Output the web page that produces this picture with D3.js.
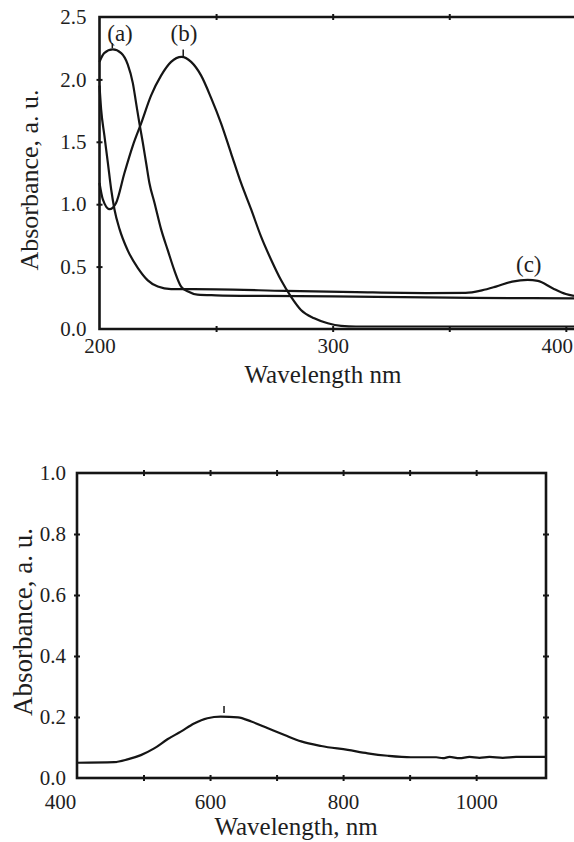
<!DOCTYPE html>
<html>
<head>
<meta charset="utf-8">
<script src="https://cdn.jsdelivr.net/npm/d3@7"></script>
<style>
  html, body { margin: 0; padding: 0; background: #fff; }
  svg { display: block; }
  text { font-family: "Liberation Serif", "Times New Roman", serif; fill: #1e1e1e; }
</style>
</head>
<body>
<svg id="chart" width="574" height="842"></svg>
<script>
// ---------- DATA (top panel: UV region) ----------
const aNm  = [200, 202, 205.7, 209.3, 212.1, 214.3, 215.7, 217.1, 218.6, 220, 221.4, 223.6, 226.4, 229.3, 232.1, 235, 238, 242, 250, 270, 300, 330, 360, 403.5];
const aAbs = [2.14, 2.21, 2.24, 2.21, 2.12, 1.97, 1.81, 1.65, 1.49, 1.33, 1.17, 1.01, 0.80, 0.63, 0.47, 0.34, 0.30, 0.275, 0.27, 0.265, 0.262, 0.255, 0.25, 0.245];

const bNm  = [200, 201.4, 204.3, 207.1, 210.7, 214.3, 217.9, 222.1, 226.4, 230.7, 235.2, 239.3, 243.6, 247.9, 252.1, 256.4, 260.7, 265, 269.3, 273.6, 277.9, 282.1, 286.4, 292.1, 297.9, 303.6, 310, 330, 360, 403.5];
const bAbs = [1.17, 1.04, 0.96, 1.01, 1.25, 1.47, 1.65, 1.87, 2.03, 2.14, 2.18, 2.14, 2.03, 1.85, 1.65, 1.41, 1.17, 0.96, 0.74, 0.555, 0.39, 0.26, 0.153, 0.086, 0.046, 0.025, 0.02, 0.02, 0.02, 0.02];

const cNm  = [200, 200.7, 202.1, 203.6, 205, 206.4, 208.6, 212.1, 216.4, 220.7, 225, 230.7, 250, 280, 310, 340, 357, 364, 370, 377, 383.6, 388, 394.3, 400, 403.5];
const cAbs = [1.95, 1.76, 1.55, 1.33, 1.12, 0.96, 0.80, 0.63, 0.49, 0.39, 0.34, 0.32, 0.318, 0.305, 0.295, 0.288, 0.29, 0.31, 0.34, 0.38, 0.394, 0.386, 0.327, 0.28, 0.265];

const topXTicks  = [250, 300, 350, 400];
const topXLabels = [200, 300, 400];
const topYTicks  = [0.5, 1.0, 1.5, 2.0];
const topYLabels = [0.0, 0.5, 1.0, 1.5, 2.0, 2.5];

const curveLabels   = ["(a)", "(b)", "(c)"];
const curveLabelNm  = [208.8, 236.2, 384.1];
const curveLabelAbs = [2.308, 2.308, 0.457];
const peakMarkNm    = [205.5, 235.9];
const peakMarkLo    = [2.25, 2.18];
const peakMarkHi    = [2.29, 2.24];

// ---------- DATA (bottom panel: visible / NIR) ----------
const visNm  = [400, 456, 476, 496, 516, 536, 556, 576, 596, 616, 642, 662, 687, 712, 737, 767, 807, 837, 867, 902, 940, 950, 960, 975, 990, 1005, 1020, 1040, 1060, 1105];
const visAbs = [0.05, 0.052, 0.061, 0.075, 0.097, 0.127, 0.152, 0.179, 0.196, 0.201, 0.199, 0.185, 0.163, 0.141, 0.12, 0.105, 0.092, 0.081, 0.073, 0.068, 0.068, 0.065, 0.069, 0.065, 0.069, 0.066, 0.069, 0.066, 0.069, 0.069];

const botXTicks  = [500, 600, 700, 800, 900, 1000];
const botXLabels = [400, 600, 800, 1000];
const botYTicks  = [0.2, 0.4, 0.6, 0.8];
const botYLabels = [0.0, 0.2, 0.4, 0.6, 0.8, 1.0];
const visPeakNm = 621, visPeakLo = 0.213, visPeakHi = 0.236;

// ---------- DRAWING ----------
const svg = d3.select("#chart");
svg.append("rect").attr("width", 574).attr("height", 842).attr("fill", "#fff");
const INK = "#151515";
const zip = (xs, ys) => xs.map((x, i) => [x, ys[i]]);

function styleAxis(g, fs) {
  g.attr("font-family", "Liberation Serif, Times New Roman, serif").attr("font-size", fs);
  g.select(".domain").remove();
  g.selectAll("line").attr("stroke", INK).attr("stroke-width", 2);
  g.selectAll("text").attr("fill", "#1e1e1e");
}

// ===== TOP PANEL =====
const tx = d3.scaleLinear().domain([200, 403.5]).range([99.5, 574]);
const ty = d3.scaleLinear().domain([0, 2.5]).range([329, 17]);
const topG = svg.append("g");

const tFrame = d3.path();
tFrame.moveTo(tx.range()[1], ty(2.5));
tFrame.lineTo(tx(200), ty(2.5));
tFrame.lineTo(tx(200), ty(0));
tFrame.lineTo(tx.range()[1], ty(0));
topG.append("path").attr("d", tFrame.toString()).attr("fill", "none")
  .attr("stroke", INK).attr("stroke-width", 2.6);

topG.append("g").attr("transform", `translate(0,${ty(0) - 3})`)
  .call(d3.axisBottom(tx).tickValues(topXTicks).tickSize(6).tickFormat(""))
  .call(g => styleAxis(g, 21));
topG.append("g").attr("transform", `translate(0,${ty(2.5) - 3})`)
  .call(d3.axisBottom(tx).tickValues(topXTicks.slice(0, 3)).tickSize(6).tickFormat(""))
  .call(g => styleAxis(g, 21));
topG.append("g").attr("transform", `translate(${tx(200) + 3},0)`)
  .call(d3.axisLeft(ty).tickValues(topYTicks).tickSize(6).tickFormat(""))
  .call(g => styleAxis(g, 21));

topG.append("g").attr("transform", `translate(0,${ty(0)})`)
  .call(d3.axisBottom(tx).tickValues(topXLabels).tickSize(0).tickPadding(9).tickFormat(d3.format("d")))
  .call(g => styleAxis(g, 21))
  .call(g => g.selectAll("text").filter(d => d === 400).attr("dx", -9));
topG.append("g").attr("transform", `translate(${tx(200)},0)`)
  .call(d3.axisLeft(ty).tickValues(topYLabels).tickSize(0).tickPadding(13).tickFormat(d3.format(".1f")))
  .call(g => styleAxis(g, 21));

const tLine = d3.line().x(d => tx(d[0])).y(d => ty(d[1])).curve(d3.curveMonotoneX);
[[aNm, aAbs], [bNm, bAbs], [cNm, cAbs]].forEach(([xs, ys]) => {
  topG.append("path").attr("d", tLine(zip(xs, ys))).attr("fill", "none")
    .attr("stroke", INK).attr("stroke-width", 2.2).attr("stroke-linejoin", "round");
});

peakMarkNm.forEach((nm, i) => {
  topG.append("line").attr("x1", tx(nm)).attr("x2", tx(nm))
    .attr("y1", ty(peakMarkLo[i])).attr("y2", ty(peakMarkHi[i]))
    .attr("stroke", INK).attr("stroke-width", 1.5);
});
curveLabels.forEach((t, i) => {
  topG.append("text").attr("x", tx(curveLabelNm[i])).attr("y", ty(curveLabelAbs[i]))
    .attr("text-anchor", "middle").attr("font-size", 23).text(t);
});

topG.append("text").attr("transform", `translate(38,180) rotate(-90)`)
  .attr("text-anchor", "middle").attr("font-size", 26).text("Absorbance, a. u.");
topG.append("text").attr("x", 323).attr("y", 383)
  .attr("text-anchor", "middle").attr("font-size", 25).text("Wavelength nm");

// ===== BOTTOM PANEL =====
const bx = d3.scaleLinear().domain([400, 1105]).range([77, 546]);
const by = d3.scaleLinear().domain([0, 1]).range([778, 473]);
const botG = svg.append("g");

botG.append("rect").attr("x", bx(400)).attr("y", by(1)).attr("width", bx(1105) - bx(400))
  .attr("height", by(0) - by(1)).attr("fill", "none").attr("stroke", INK).attr("stroke-width", 2.6);

botG.append("g").attr("transform", `translate(0,${by(0) - 3})`)
  .call(d3.axisBottom(bx).tickValues(botXTicks).tickSize(6).tickFormat(""))
  .call(g => styleAxis(g, 21));
botG.append("g").attr("transform", `translate(0,${by(1) - 3})`)
  .call(d3.axisBottom(bx).tickValues(botXTicks).tickSize(6).tickFormat(""))
  .call(g => styleAxis(g, 21));
botG.append("g").attr("transform", `translate(${bx(400) + 3},0)`)
  .call(d3.axisLeft(by).tickValues(botYTicks).tickSize(6).tickFormat(""))
  .call(g => styleAxis(g, 21));
botG.append("g").attr("transform", `translate(${bx(1105) + 3},0)`)
  .call(d3.axisLeft(by).tickValues(botYTicks).tickSize(6).tickFormat(""))
  .call(g => styleAxis(g, 21));

botG.append("g").attr("transform", `translate(0,${by(0)})`)
  .call(d3.axisBottom(bx).tickValues(botXLabels).tickSize(0).tickPadding(16).tickFormat(d3.format("d")))
  .call(g => styleAxis(g, 21))
  .call(g => g.selectAll("text").filter(d => d === 400).attr("dx", -17));
botG.append("g").attr("transform", `translate(${bx(400)},0)`)
  .call(d3.axisLeft(by).tickValues(botYLabels).tickSize(0).tickPadding(11).tickFormat(d3.format(".1f")))
  .call(g => styleAxis(g, 21));

const bLine = d3.line().x(d => bx(d[0])).y(d => by(d[1])).curve(d3.curveMonotoneX);
botG.append("path").attr("d", bLine(zip(visNm, visAbs))).attr("fill", "none")
  .attr("stroke", INK).attr("stroke-width", 2.2).attr("stroke-linejoin", "round");
botG.append("line").attr("x1", bx(visPeakNm)).attr("x2", bx(visPeakNm))
  .attr("y1", by(visPeakLo)).attr("y2", by(visPeakHi))
  .attr("stroke", INK).attr("stroke-width", 1.5);

botG.append("text").attr("transform", `translate(32,622) rotate(-90)`)
  .attr("text-anchor", "middle").attr("font-size", 27).text("Absorbance, a. u.");
botG.append("text").attr("x", 296).attr("y", 835)
  .attr("text-anchor", "middle").attr("font-size", 25).text("Wavelength, nm");
</script>
</body>
</html>
